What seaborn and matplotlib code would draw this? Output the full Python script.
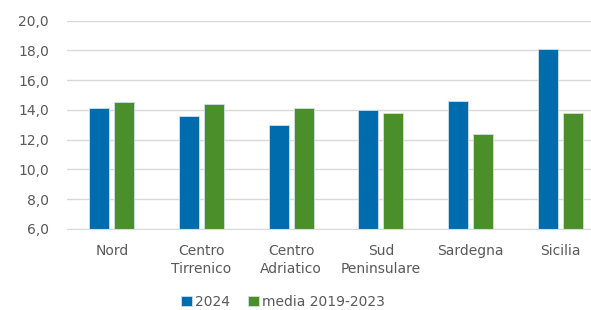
import pandas as pd
import matplotlib
matplotlib.use("Agg")
import matplotlib.pyplot as plt
import seaborn as sns

regioni = ["Nord", "Centro\nTirrenico", "Centro\nAdriatico", "Sud\nPeninsulare", "Sardegna", "Sicilia"]
valori_2024 = [14.1, 13.6, 13.0, 14.0, 14.6, 18.1]
valori_media = [14.5, 14.4, 14.1, 13.8, 12.4, 13.8]
serie = ["2024", "media 2019-2023"]
colori = ["#006cad", "#4a8f2a"]

df = pd.DataFrame({
    "regione": regioni * 2,
    "valore": valori_2024 + valori_media,
    "serie": [serie[0]] * len(regioni) + [serie[1]] * len(regioni),
})

sns.set_style("white")
plt.rcParams["font.family"] = ["DejaVu Sans"]

fig = plt.figure(figsize=(5.91, 3.10), dpi=100)
ax = fig.add_axes([67 / 591, 1 - 229 / 310, (605 - 67) / 591, (229 - 20.5) / 310])

sns.barplot(data=df, x="regione", y="valore", hue="serie", palette=colori,
            saturation=1, width=0.56, gap=0.2, ax=ax,
            edgecolor="#cfe0ea", linewidth=0.6)

ax.set_ylim(6, 20)
ax.set_yticks(range(6, 21, 2))
ax.set_yticklabels([f"{v:.1f}".replace(".", ",") for v in range(6, 21, 2)])
ax.yaxis.grid(True, color="#d9d9d9", linewidth=1)
ax.set_axisbelow(True)
for s in ["top", "right", "left"]:
    ax.spines[s].set_visible(False)
ax.spines["bottom"].set_color("#d9d9d9")
ax.tick_params(axis="both", length=0, colors="#595959", labelsize=10)
ax.tick_params(axis="y", pad=13)
ax.tick_params(axis="x", pad=11)
for lab in ax.get_xticklabels():
    lab.set_linespacing(1.35)
ax.set_xlabel("")
ax.set_ylabel("")

handles, labels = ax.get_legend_handles_labels()
ax.get_legend().remove()
fig.legend(handles, labels, loc="center", bbox_to_anchor=(283 / 591, 1 - 302 / 310),
           ncol=2, frameon=False, handlelength=0.8, handleheight=0.8,
           handletextpad=0.2, columnspacing=1.3, fontsize=10, labelcolor="#595959")

fig.savefig("out.png", dpi=100)
